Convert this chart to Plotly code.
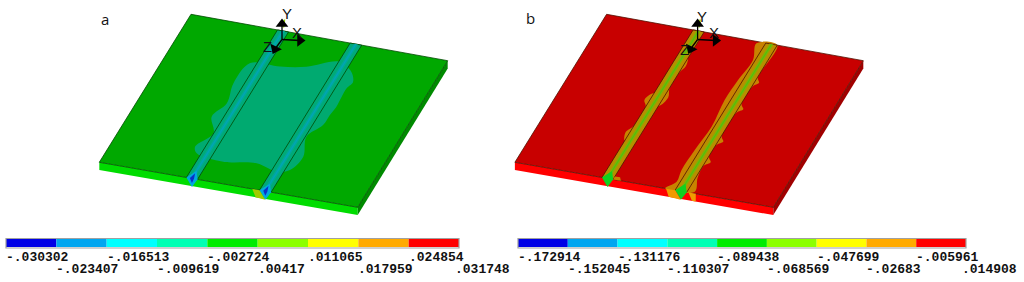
import plotly.graph_objects as go

# =========================
# DATA
# =========================
levels_a = ["-.030302", "-.023407", "-.016513", "-.009619", "-.002724", ".00417", ".011065", ".017959", ".024854", ".031748"]
levels_b = ["-.172914", "-.152045", "-.131176", "-.110307", "-.089438", "-.068569", "-.047699", "-.02683", "-.005961", ".014908"]
band_colors = ["#0000e6", "#00a6f0", "#00ffff", "#00ffb4", "#00ec00", "#8cff00", "#ffff00", "#ffaa00", "#ff0000"]

# plate outlines, in plate coordinates (u along the front edge, v towards the back)
strip_1 = [0.337, 0.380]
strip_2 = [0.620, 0.665]

blob_a_u = [.313, .425, .518, .624, .686, .714, .705, .709, .704, .702, .669, .701, .683, .640, .552, .432, .321, .301, .336, .294, .318, .298]
blob_a_v = [.768, .779, .807, .874, .825, .765, .718, .594, .536, .468, .378, .252, .156, .132, .162, .136, .159, .198, .300, .399, .498, .627]

blob_b_u = [.588, .612, .603, .599, .611, .602, .599, .607, .581, .692, .672, .667, .684, .667, .667, .684, .667, .667, .684, .667, .667, .682, .667, .665]
blob_b_v = [.988, .882, .743, .606, .428, .268, .131, .054, .001, .012, .100, .180, .210, .240, .320, .350, .380, .540, .570, .600, .720, .750, .780, 1.0]

bump_b_u = [.337, .322, .337, .337, .318, .337, .380, .396, .380, .380, .390, .380]
bump_b_v = [.250, .300, .350, .480, .520, .570, .500, .560, .620, .720, .770, .820]

# colours of each panel
colors_a = {"top": "#00a800", "front": "#00dc00", "side": "#008a00", "edge": "#004a00",
            "blob": "#00aa70", "strip": "#00aa78", "mid": "#00a898", "core": "#00a4b8",
            "tip": "#00a8e0", "tip2": "#0a30c8", "patch": "#a0cc00"}
colors_b = {"top": "#c80000", "front": "#ff0000", "side": "#a00000", "edge": "#501000",
            "blob": "#c88200", "strip": "#b88e00", "mid": "#84b000", "core": "#50c010",
            "tip": "#10d020", "tip2": "#10d020", "patch": "#f09a00"}

# triad labels of each panel: letter, x, y
labels_a = [("Y", 286.5, 13), ("X", 297, 32), ("Z", 267, 46)]
labels_b = [("Y", 701.5, 16), ("X", 714, 32), ("Z", 684, 49)]

# =========================
# FIGURE
# =========================
fig = go.Figure()

PANEL_SHIFT = {"a": 0, "b": 415.6}


def project(u, v, w, panel):
    # plate coordinates to picture position
    x = 99.3 + u * 258.4 + v * (91.7 - u * 1.7) + PANEL_SHIFT[panel]
    y = 162.3 + u * 45.0 - v * (148.0 - u * 1.4) + w * 7.7
    return x, y


def poly(points, panel, color, line=None, width=1, smooth=False):
    xs, ys = zip(*[project(p[0], p[1], p[2] if len(p) > 2 else 0, panel) for p in points])
    fig.add_trace(go.Scatter(x=list(xs) + [xs[0]], y=list(ys) + [ys[0]], mode="lines", fill="toself",
                             fillcolor=color, hoverinfo="skip",
                             line=dict(color=line or color, width=width if line else 0,
                                       shape="spline" if smooth else "linear")))


def draw_plate(panel, c, blobs):
    poly([(0, 0), (1, 0), (1, 0, 1), (0, 0, 1)], panel, c["front"])
    poly([(1, 0), (1, 1), (1, 1, 1), (1, 0, 1)], panel, c["side"])
    poly([(0, 0), (1, 0), (1, 1), (0, 1)], panel, c["top"], c["edge"], 0.8)
    for bu, bv in blobs:
        poly(list(zip(bu, bv)), panel, c["blob"], smooth=True)
    for s in (strip_1, strip_2):
        mid = (s[0] + s[1]) / 2
        poly([(s[0], 0), (s[1], 0), (s[1], 1), (s[0], 1)], panel, c["strip"], c["edge"], 0.8)
        poly([(mid - 0.008, 0), (mid + 0.008, 0), (mid + 0.008, 1), (mid - 0.008, 1)], panel, c["mid"])
        poly([(mid - 0.0025, 0), (mid + 0.0025, 0), (mid + 0.0025, 1), (mid - 0.0025, 1)], panel, c["core"])
        poly([(s[0], 0), (mid, 0.05), (s[1], 0), (mid, 0, 1.1)], panel, c["tip"])
        poly([(mid - 0.008, 0), (mid, 0.035), (mid + 0.008, 0), (mid, 0, 0.6)], panel, c["tip2"])


draw_plate("a", colors_a, [(blob_a_u, blob_a_v)])
draw_plate("b", colors_b, [(blob_b_u, blob_b_v), (bump_b_u, bump_b_v)])
poly([(0.592, 0), (strip_2[0], 0), (0.642, 0, 1.1), (0.605, 0, 1)], "a", colors_a["patch"])
poly([(0.585, 0), (strip_2[0], 0), (0.642, 0, 1.1), (0.595, 0, 1)], "b", colors_b["patch"])
poly([(0.672, 0), (0.70, 0), (0.70, 0, 1), (0.685, 0, 1)], "b", colors_b["patch"])
poly([(0.380, 0), (0.41, 0), (0.40, 0.02), (0.380, 0.02)], "b", colors_b["blob"])

# coordinate triad
for dx in (PANEL_SHIFT["a"], PANEL_SHIFT["b"]):
    ox, oy = 282 + dx, 39.5
    fig.add_trace(go.Scatter(x=[ox + 1.5, ox + 2.5], y=[oy - 12, oy - 20], mode="lines", hoverinfo="skip",
                             line=dict(color="#9be000", width=1.5)))
    for ex, ey, ang in [(ox, 24, 0), (ox + 18, 40.5, 90), (ox - 7, 49, 205)]:
        fig.add_trace(go.Scatter(x=[ox, ex], y=[oy, ey], mode="lines", hoverinfo="skip",
                                 line=dict(color="black", width=1.3)))
        fig.add_trace(go.Scatter(x=[ex], y=[ey], mode="markers", hoverinfo="skip",
                                 marker=dict(symbol="triangle-up", size=11, angle=ang, color="black",
                                             opacity=1, line=dict(width=0))))

# colour bars
for axis, x0, x1 in [("x2", 6, 459), ("x3", 518, 966)]:
    fig.add_trace(go.Bar(x=[i + 0.5 for i in range(9)], y=[1] * 9, width=1, marker=dict(color=band_colors, line_width=0),
                         xaxis=axis, yaxis="y" + axis[1], hoverinfo="skip"))
    name = "xaxis" + axis[1]
    fig.layout[name] = dict(domain=[x0 / 1024, x1 / 1024], range=[0, 9], visible=False)
    fig.layout["yaxis" + axis[1]] = dict(domain=[1 - 247 / 282, 1 - 239 / 282], range=[0, 1], visible=False, anchor=axis)
    fig.add_shape(type="rect", xref=axis + " domain", yref="paper", x0=0, x1=1, y0=1 - 248 / 282, y1=1 - 238.5 / 282,
                  line=dict(color="#a0a0a0", width=1.2))

annotations = []
for axis, labels in [("x2", levels_a), ("x3", levels_b)]:
    for i, text in enumerate(labels):
        annotations.append(dict(x=i, y=257 if i % 2 == 0 else 269, xref=axis, yref="y", text=text, showarrow=False,
                                xanchor="left", yanchor="middle", xshift=-4 if i == 9 else 0,
                                font=dict(family="Liberation Mono", size=13, color="#111111", weight="bold"),
                                borderpad=0, borderwidth=0))

for letter, lx, ly in [("a", 105, 19), ("b", 530, 18)]:
    annotations.append(dict(x=lx, y=ly, xref="x", yref="y", text=letter, showarrow=False,
                            font=dict(family="Open Sans", size=15, color="#111111")))
for letter, tx, ty in labels_a + labels_b:
    annotations.append(dict(x=tx, y=ty, xref="x", yref="y", text=letter, showarrow=False,
                            font=dict(family="Liberation Sans", size=15, color="#111111")))

fig.update_layout(
    width=1024, height=282, margin=dict(l=0, r=0, t=0, b=0), showlegend=False,
    paper_bgcolor="white", plot_bgcolor="white", barmode="overlay", annotations=annotations,
    xaxis=dict(range=[0, 1024], domain=[0, 1], visible=False),
    yaxis=dict(range=[282, 0], domain=[0, 1], visible=False),
)

fig.write_html("out.html", config={"displayModeBar": False}, post_script="document.body.style.margin='0';")
